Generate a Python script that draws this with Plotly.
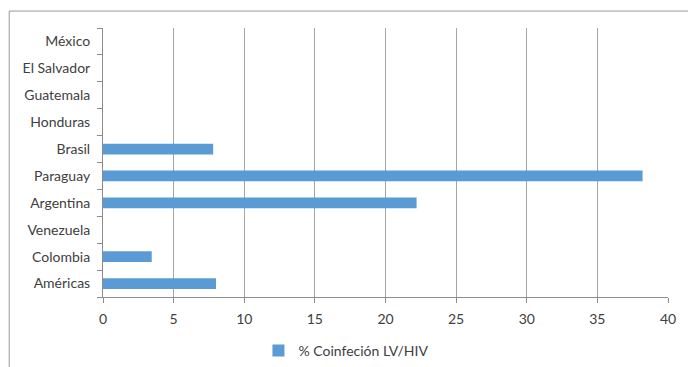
import plotly.graph_objects as go

# Countries listed bottom-to-top as they appear on the category axis
paises = ["Américas", "Colombia", "Venezuela", "Argentina", "Paraguay",
          "Brasil", "Honduras", "Guatemala", "El Salvador", "México"]
coinfeccion = [8.0, 3.45, 0, 22.2, 38.2, 7.8, 0, 0, 0, 0]
serie = "% Coinfeción LV/HIV"
x_ticks = [0, 5, 10, 15, 20, 25, 30, 35, 40]

FONT = "Lato"
TEXT = "#404040"
BLUE = "#5B9BD5"
GRID = "#A6A6A6"
AXIS = "#8C8C8C"

fig = go.Figure()
fig.add_trace(go.Bar(
    y=paises, x=coinfeccion, orientation="h", name=serie,
    marker=dict(color=BLUE, line=dict(width=0)),
    showlegend=True,
))

fig.update_layout(
    width=688, height=367,
    margin=dict(l=103, r=20, t=28, b=70, autoexpand=False),
    paper_bgcolor="white", plot_bgcolor="white",
    bargap=0.6,
    font=dict(family=FONT, size=14, color=TEXT),
    showlegend=True,
    legend=dict(orientation="h", x=0.43, xanchor="center", y=-0.2, yanchor="middle",
                font=dict(family=FONT, size=14, color=TEXT),
                itemwidth=30, bgcolor="rgba(0,0,0,0)"),
    xaxis=dict(range=[0, 40], tickvals=x_ticks, showgrid=True, gridcolor=GRID,
               gridwidth=1, zeroline=False, showline=True, linecolor=AXIS,
               ticks="outside", ticklen=5, tickcolor=AXIS, mirror=False,
               ticklabelstandoff=4, automargin=False,
               tickfont=dict(family=FONT, size=14, color=TEXT)),
    yaxis=dict(categoryorder="array", categoryarray=paises, showgrid=False,
               showline=True, linecolor=AXIS, ticks="outside", ticklen=5,
               tickcolor=AXIS, tickson="boundaries", ticklabelstandoff=9,
               automargin=False,
               tickfont=dict(family=FONT, size=14, color=TEXT)),
    shapes=[dict(type="rect", xref="paper", yref="paper",
                 x0=-0.166, x1=1.2, y0=-0.5, y1=1.063,
                 line=dict(color="#9A9A9A", width=1), layer="below")],
)

fig.write_html("out.html")
